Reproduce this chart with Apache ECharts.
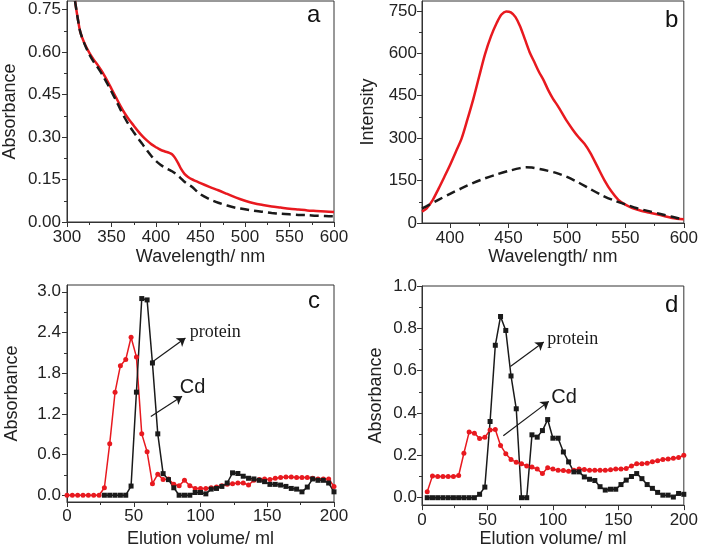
<!DOCTYPE html>
<html>
<head>
<meta charset="utf-8">
<script src="https://cdn.jsdelivr.net/npm/echarts@6/dist/echarts.min.js"></script>
<style>html,body{margin:0;padding:0;background:#fff}#chart{width:701px;height:549px}</style>
</head>
<body>
<div id="chart"></div>
<script>
// ---------- Panel a: absorbance spectra ----------
const aWavelength = [309,312,315,320,325,330,335,340,345,350,355,360,365,370,375,380,385,390,395,400,405,410,415,418,421,425,428,432,436,440,450,460,470,480,490,500,510,520,530,540,550,560,570,580,590,600];
const aRed   = [0.78,0.72,0.67,0.628,0.598,0.573,0.552,0.528,0.5,0.47,0.44,0.41,0.383,0.36,0.34,0.32,0.302,0.287,0.274,0.264,0.255,0.249,0.244,0.239,0.228,0.207,0.188,0.17,0.159,0.151,0.137,0.124,0.112,0.099,0.086,0.075,0.066,0.06,0.055,0.051,0.047,0.044,0.041,0.039,0.037,0.035];
const aBlack = [0.78,0.72,0.67,0.626,0.592,0.565,0.543,0.518,0.49,0.46,0.43,0.397,0.367,0.34,0.317,0.295,0.274,0.252,0.232,0.215,0.202,0.192,0.184,0.179,0.173,0.163,0.154,0.142,0.133,0.125,0.098,0.081,0.068,0.058,0.05,0.045,0.04,0.036,0.032,0.029,0.027,0.025,0.024,0.022,0.021,0.02];
const aXTicks = [300,350,400,450,500,550,600];
const aYTicks = [0,0.15,0.3,0.45,0.6,0.75];

// ---------- Panel b: fluorescence spectra ----------
const bRedWl = [376,380,385,390,395,400,405,410,415,420,425,430,435,440,444,448,452,456,460,464,468,472,476,480,484,488,492,496,500,505,510,515,520,526,532,538,544,550,556,562,570,580,590,600];
const bRed   = [40,52,80,120,162,205,252,300,368,440,520,598,660,708,737,748,745,728,695,650,605,570,535,505,470,440,415,388,360,330,303,280,248,200,152,112,82,65,53,45,37,28,18,13];
const bBlackWl = [376,380,390,400,410,420,430,440,450,460,465,470,480,490,500,510,520,530,540,550,560,570,580,590,600];
const bBlack   = [52,60,82,103,123,142,158,172,184,194,197,196,188,178,163,143,120,98,80,66,52,42,32,22,12];
const bXTicks = [400,450,500,550,600];
const bYTicks = [0,150,300,450,600,750];

// ---------- Panel c: elution profile ----------
const cCdVol = [0,4,8,12,16,20,24,28,32,36,40,44,48,52,56,60,64,68,72,76,80,84,88,92,96,100,104,108,112,116,120,124,128,132,136,140,144,148,152,156,160,164,168,172,176,180,184,188,192,196,200];
const cCd    = [0,0,0,0,0,0,0,0.11,0.76,1.52,1.91,2.0,2.33,2.04,0.905,0.64,0.17,0.31,0.23,0.24,0.16,0.14,0.22,0.14,0.1,0.1,0.1,0.11,0.12,0.14,0.16,0.17,0.18,0.18,0.15,0.22,0.23,0.24,0.23,0.25,0.26,0.27,0.27,0.26,0.26,0.26,0.25,0.24,0.24,0.24,0.13];
const cProteinVol = [28,32,36,40,44,48,52,56,60,64,68,72,76,80,84,88,92,96,100,104,108,112,116,120,124,128,132,136,140,144,148,152,156,160,164,168,172,176,180,184,188,192,196,200];
const cProtein    = [0,0,0,0,0,0.135,1.52,2.9,2.88,1.95,0.905,0.318,0.23,0.11,0,0,0,0.04,0.04,0.02,0.09,0.1,0.13,0.18,0.33,0.32,0.28,0.25,0.24,0.22,0.2,0.16,0.16,0.15,0.13,0.1,0.09,0.05,0.12,0.24,0.22,0.22,0.18,0.05];
const cXTicks = [0,50,100,150,200];
const cYTicks = [0,0.6,1.2,1.8,2.4,3.0];

// ---------- Panel d: elution profile ----------
const dCdVol = [4,8,12,16,20,24,28,32,36,40,44,48,52,56,60,64,68,72,76,80,84,88,92,96,100,104,108,112,116,120,124,128,132,136,140,144,148,152,156,160,164,168,172,176,180,184,188,192,196,200];
const dCd    = [0.028,0.103,0.1,0.1,0.1,0.1,0.105,0.21,0.31,0.305,0.28,0.285,0.32,0.322,0.247,0.208,0.18,0.168,0.16,0.15,0.145,0.135,0.114,0.142,0.135,0.13,0.128,0.125,0.13,0.135,0.133,0.13,0.13,0.13,0.13,0.132,0.135,0.135,0.138,0.15,0.16,0.16,0.163,0.17,0.175,0.18,0.183,0.186,0.19,0.2];
const dProteinVol = [4,8,12,16,20,24,28,32,36,40,44,48,52,56,60,64,68,72,76,80,84,88,92,96,100,104,108,112,116,120,124,128,132,136,140,144,148,152,156,160,164,168,172,176,180,184,188,192,196,200];
const dProtein    = [0,0,0,0,0,0,0,0,0,0,0.016,0.05,0.36,0.72,0.856,0.79,0.575,0.42,0,0,0.297,0.286,0.317,0.369,0.281,0.281,0.216,0.169,0.122,0.122,0.098,0.087,0.081,0.052,0.036,0.04,0.04,0.062,0.083,0.1,0.114,0.09,0.062,0.044,0.025,0.012,0.012,0.003,0.02,0.016];
const dXTicks = [0,50,100,150,200];
const dYTicks = [0,0.2,0.4,0.6,0.8,1.0];

const FONT = '"Liberation Sans", Arial, sans-serif';
const SERIF = '"Liberation Serif", "Times New Roman", serif';
const RED = '#e8191f';
const INK = '#1a1a1a';

function zip(xs, ys) { return xs.map((x, i) => [x, ys[i]]); }
function minors(ticks, min, max) {
  const out = [];
  for (let i = 0; i < ticks.length - 1; i++) out.push((ticks[i] + ticks[i + 1]) / 2);
  const step = ticks[1] - ticks[0];
  const before = ticks[0] - step / 2, after = ticks[ticks.length - 1] + step / 2;
  if (before >= min) out.push(before);
  if (after <= max) out.push(after);
  return out;
}

const grids = [
  {left: 67, top: 1, right: 367, bottom: 327},
  {left: 422, top: 1, right: 11, bottom: 326},
  {left: 67, top: 285, right: 367, bottom: 43},
  {left: 422, top: 286, right: 11, bottom: 42}
].map(g => Object.assign({show: true, borderColor: '#333', borderWidth: 1, backgroundColor: 'transparent'}, g));

function mainAxis(dim, gi, min, max, ticks, fmt, name, nameGap, margin) {
  return {
    type: 'value', gridIndex: gi, min: min, max: max,
    position: dim === 'x' ? 'bottom' : 'left',
    axisLine: {show: true, onZero: false, lineStyle: {color: '#333', width: 1}},
    axisTick: {show: true, inside: false, length: 5, customValues: ticks, lineStyle: {color: '#333', width: 1}},
    axisLabel: {show: true, customValues: ticks, formatter: fmt, fontSize: 17, color: '#222', fontFamily: FONT, margin: margin},
    splitLine: {show: false},
    name: name, nameLocation: 'middle', nameGap: nameGap,
    nameTextStyle: {fontSize: 18, color: '#222', fontFamily: FONT}
  };
}
function minorAxis(dim, gi, min, max, ticks) {
  return {
    type: 'value', gridIndex: gi, min: min, max: max,
    position: dim === 'x' ? 'bottom' : 'left',
    axisLine: {show: false, onZero: false},
    axisTick: {show: true, inside: false, length: 3, customValues: minors(ticks, min, max), lineStyle: {color: '#333', width: 1}},
    axisLabel: {show: false},
    splitLine: {show: false}
  };
}

const fInt = v => String(Math.round(v));
const f2 = v => v.toFixed(2);
const f1 = v => v.toFixed(1);

const aX = [300, 600], aY = [0, 0.78];
const bX = [376, 600], bY = [0, 785];
const cX = [0, 200], cY = [-0.1, 3.1];
const dX = [0, 200], dY = [-0.035, 1.0];

const xAxis = [
  mainAxis('x', 0, aX[0], aX[1], aXTicks, fInt, 'Wavelength/ nm', 26, 7), minorAxis('x', 0, aX[0], aX[1], aXTicks),
  mainAxis('x', 1, bX[0], bX[1], bXTicks, fInt, 'Wavelength/ nm', 25, 7), minorAxis('x', 1, bX[0], bX[1], bXTicks),
  mainAxis('x', 2, cX[0], cX[1], cXTicks, fInt, 'Elution volume/ ml', 28, 6), minorAxis('x', 2, cX[0], cX[1], cXTicks),
  mainAxis('x', 3, dX[0], dX[1], dXTicks, fInt, 'Elution volume/ ml', 22, 7), minorAxis('x', 3, dX[0], dX[1], dXTicks)
];
const yAxis = [
  mainAxis('y', 0, aY[0], aY[1], aYTicks, f2, 'Absorbance', 48, 6), minorAxis('y', 0, aY[0], aY[1], aYTicks),
  mainAxis('y', 1, bY[0], bY[1], bYTicks, fInt, 'Intensity', 45, 5), minorAxis('y', 1, bY[0], bY[1], bYTicks),
  mainAxis('y', 2, cY[0], cY[1], cYTicks, f1, 'Absorbance', 46, 6), minorAxis('y', 2, cY[0], cY[1], cYTicks),
  mainAxis('y', 3, dY[0], dY[1], dYTicks, f1, 'Absorbance', 37, 5), minorAxis('y', 3, dY[0], dY[1], dYTicks)
];

function arrow(from, to) {
  return {
    silent: true, animation: false, symbol: ['none', 'arrow'], symbolSize: 8,
    label: {show: false},
    lineStyle: {color: INK, width: 1.2, type: 'solid'},
    emphasis: {disabled: true},
    data: [[{coord: from}, {coord: to}]]
  };
}
function note(pos, text, font, size) {
  return {
    silent: true, animation: false, symbol: 'circle', symbolSize: 0,
    itemStyle: {color: 'transparent'},
    label: {show: true, position: 'right', distance: 0, formatter: text, fontFamily: font, fontSize: size, color: INK},
    emphasis: {disabled: true},
    data: [{coord: pos, value: 0}]
  };
}

const series = [
  {type: 'line', xAxisIndex: 0, yAxisIndex: 0, data: zip(aWavelength, aRed), showSymbol: false, smooth: 0.3, clip: true,
   lineStyle: {color: RED, width: 2.5}, itemStyle: {color: RED}},
  {type: 'line', xAxisIndex: 0, yAxisIndex: 0, data: zip(aWavelength, aBlack), showSymbol: false, smooth: 0.3, clip: true,
   lineStyle: {color: INK, width: 2.5, type: [9, 5]}, itemStyle: {color: INK}},
  {type: 'line', xAxisIndex: 2, yAxisIndex: 2, data: zip(bRedWl, bRed), showSymbol: false, smooth: 0.3, clip: true,
   lineStyle: {color: RED, width: 2.5}, itemStyle: {color: RED}},
  {type: 'line', xAxisIndex: 2, yAxisIndex: 2, data: zip(bBlackWl, bBlack), showSymbol: false, smooth: 0.3, clip: true,
   lineStyle: {color: INK, width: 2.5, type: [9, 5]}, itemStyle: {color: INK}},
  {type: 'line', xAxisIndex: 4, yAxisIndex: 4, data: zip(cCdVol, cCd), symbol: 'circle', symbolSize: 5, clip: true,
   lineStyle: {color: RED, width: 1.5}, itemStyle: {color: RED}},
  {type: 'line', xAxisIndex: 4, yAxisIndex: 4, data: zip(cProteinVol, cProtein), symbol: 'rect', symbolSize: 5, clip: true,
   lineStyle: {color: INK, width: 1.5}, itemStyle: {color: INK},
   markLine: arrow([63.6, 1.96], [88.7, 2.32])},
  {type: 'line', xAxisIndex: 4, yAxisIndex: 4, data: [], markLine: arrow([62.8, 1.16], [86.2, 1.46])},
  {type: 'line', xAxisIndex: 4, yAxisIndex: 4, data: [], markPoint: note([92, 2.41], 'protein', SERIF, 18)},
  {type: 'line', xAxisIndex: 4, yAxisIndex: 4, data: [], markPoint: note([84.5, 1.59], 'Cd', FONT, 20)},
  {type: 'line', xAxisIndex: 6, yAxisIndex: 6, data: zip(dCdVol, dCd), symbol: 'circle', symbolSize: 5, clip: true,
   lineStyle: {color: RED, width: 1.5}, itemStyle: {color: RED}},
  {type: 'line', xAxisIndex: 6, yAxisIndex: 6, data: zip(dProteinVol, dProtein), symbol: 'rect', symbolSize: 5, clip: true,
   lineStyle: {color: INK, width: 1.5}, itemStyle: {color: INK},
   markLine: arrow([67.5, 0.62], [93, 0.735])},
  {type: 'line', xAxisIndex: 6, yAxisIndex: 6, data: [], markLine: arrow([62.1, 0.293], [96.9, 0.455])},
  {type: 'line', xAxisIndex: 6, yAxisIndex: 6, data: [], markPoint: note([95.6, 0.75], 'protein', SERIF, 18)},
  {type: 'line', xAxisIndex: 6, yAxisIndex: 6, data: [], markPoint: note([98.8, 0.473], 'Cd', FONT, 20)}
];

const letters = [['a', 307, 22], ['b', 665, 27], ['c', 308, 308], ['d', 665, 312]].map(l => ({
  type: 'text', left: l[1], top: l[2] - 19, silent: true,
  style: {text: l[0], fontSize: 24, fontFamily: FONT, fill: '#111'}
}));

const chart = echarts.init(document.getElementById('chart'), null, {renderer: 'canvas'});
chart.setOption({
  animation: false,
  backgroundColor: '#fff',
  grid: grids,
  xAxis: xAxis,
  yAxis: yAxis,
  series: series,
  graphic: letters
});
</script>
</body>
</html>
